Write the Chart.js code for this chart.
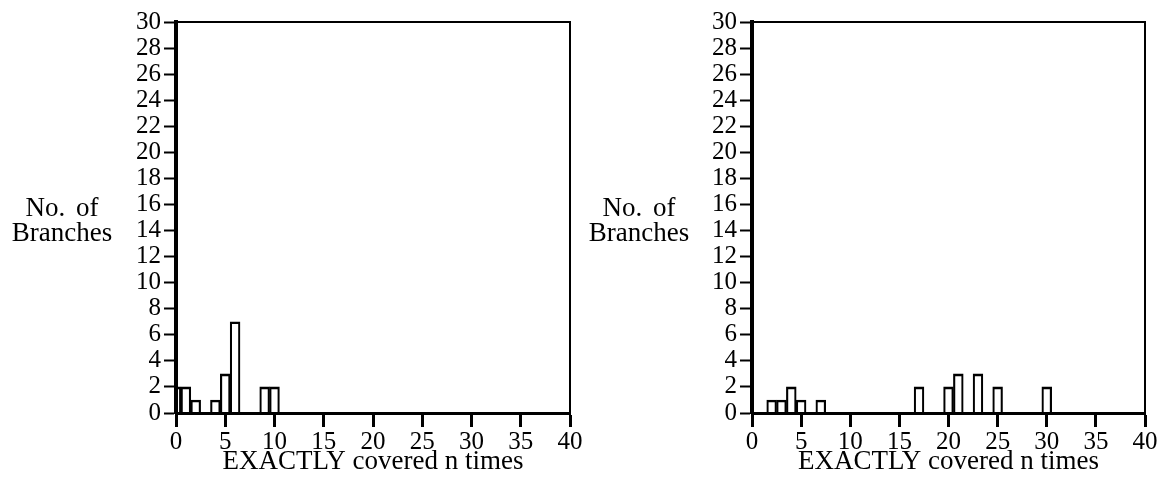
<!DOCTYPE html>
<html>
<head>
<meta charset="utf-8">
<script src="https://cdn.jsdelivr.net/npm/chart.js@4.4.0/dist/chart.umd.min.js"></script>
<style>
  html, body { margin: 0; padding: 0; background: #fff; }
  #page { position: relative; width: 1158px; height: 484px; overflow: hidden; }
  .panel { position: absolute; top: 0; height: 484px; }
  .ylab {
    position: absolute; top: 195px; width: 130px; text-align: center;
    font-family: "Liberation Serif", serif; font-size: 27px; line-height: 25px;
    word-spacing: 4px; color: #000;
  }
</style>
</head>
<body>
<div id="page">
  <div class="panel" style="left:0;width:590px"><canvas id="chart-left"></canvas></div>
  <div class="panel" style="left:576px;width:582px"><canvas id="chart-right"></canvas></div>
  <div class="ylab" style="left:-3px">No. of<br>Branches</div>
  <div class="ylab" style="left:574px">No. of<br>Branches</div>
</div>
<script>
// histogram data: how many branches were covered exactly n times
const leftTimes   = [0, 1, 2, 4, 5, 6, 9, 10];
const leftCounts  = [2, 2, 1, 1, 3, 7, 2, 2];
const rightTimes  = [2, 3, 4, 5, 7, 17, 20, 21, 23, 25, 30];
const rightCounts = [1, 1, 2, 1, 1, 2, 2, 3, 3, 2, 2];

// axis ranges and tick steps
const xMax = 40, xStep = 5;
const yMax = 30, yStep = 2;
const xTitle = "EXACTLY covered n times";

Chart.defaults.font.family = '"Liberation Serif", serif';
Chart.defaults.font.size = 25;
Chart.defaults.color = "#000";

function makeHistogram(canvasId, times, counts, padRight) {
  const points = times.map((n, i) => ({ x: n, y: counts[i] }));

  return new Chart(document.getElementById(canvasId), {
    type: "bar",
    data: {
      datasets: [{
        data: points,
        backgroundColor: "rgba(0,0,0,0)",
        borderColor: "#000",
        borderWidth: { top: 2, left: 1.5, right: 1.5, bottom: 0 },
        borderSkipped: "start",
        categoryPercentage: 1,
        barPercentage: 1,
        clip: 0,
      }]
    },
    options: {
      responsive: true,
      maintainAspectRatio: false,
      animation: false,
      layout: { padding: { top: 22, right: padRight, bottom: 0, left: 0 } },
      plugins: { legend: { display: false }, tooltip: { enabled: false } },
      scales: {
        x: {
          type: "linear", position: "bottom", min: 0, max: xMax, offset: false,
          ticks: { stepSize: xStep, padding: 0, maxRotation: 0, autoSkip: false },
          grid: { offset: false, drawOnChartArea: false, drawTicks: true, tickLength: 14, tickWidth: 3, tickColor: "#000" },
          border: { display: true, color: "#000", width: 3 },
          title: { display: true, text: xTitle, font: { size: 27 }, padding: { top: 0, bottom: 6 } },
          afterFit: s => { s.height = 71; s.paddingLeft = 0; s.paddingRight = 0; },
        },
        y: {
          type: "linear", position: "left", min: 0, max: yMax,
          ticks: { stepSize: yStep, padding: 3, autoSkip: false },
          grid: { drawOnChartArea: false, drawTicks: true, tickLength: 12, tickWidth: 2, tickColor: "#000" },
          border: { display: true, color: "#000", width: 4 },
          afterFit: s => { s.width = 176; s.paddingTop = 0; s.paddingBottom = 0; },
        },
        // plain frame lines on top and right
        xTop: {
          type: "linear", position: "top", min: 0, max: xMax, offset: false,
          ticks: { display: false },
          grid: { display: false, drawTicks: false },
          border: { display: true, color: "#000", width: 2 },
          afterFit: s => { s.height = 0; },
        },
        yRight: {
          type: "linear", position: "right", min: 0, max: yMax,
          ticks: { display: false },
          grid: { display: false, drawTicks: false },
          border: { display: true, color: "#000", width: 2 },
          afterFit: s => { s.width = 0; },
        },
      }
    }
  });
}

makeHistogram("chart-left", leftTimes, leftCounts, 20);
makeHistogram("chart-right", rightTimes, rightCounts, 13);
</script>
</body>
</html>
